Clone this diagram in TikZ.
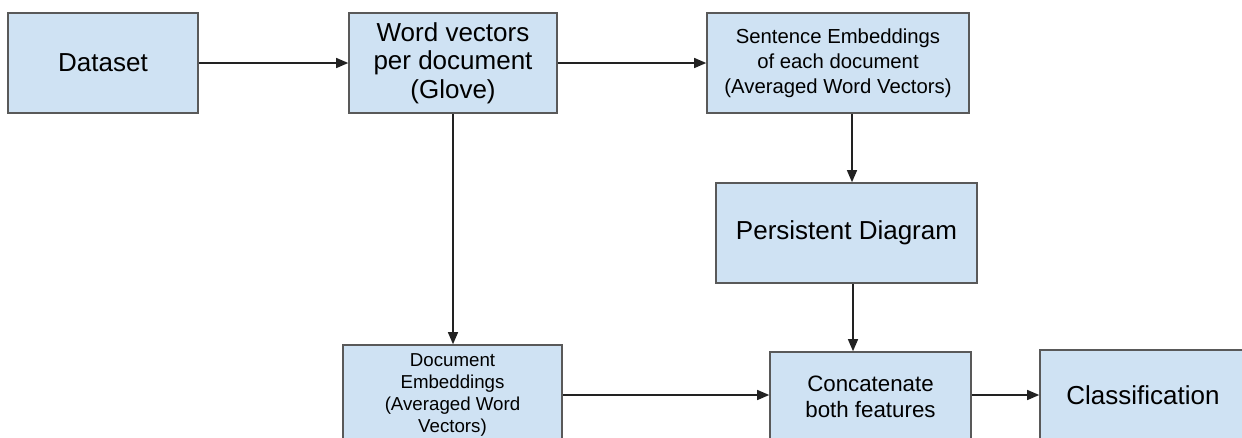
\documentclass[tikz,border=0pt]{standalone}
\usepackage{fontspec}
\setmainfont{Liberation Sans}
\usetikzlibrary{arrows.meta}
\definecolor{boxfill}{HTML}{CFE2F3}
\definecolor{boxline}{HTML}{595959}
\definecolor{arrowc}{HTML}{222222}
\tikzset{
  blk/.style={draw=boxline, line width=1.6pt, fill=boxfill, align=center, inner sep=2pt},
  big/.style={font=\fontsize{26}{28.5}\selectfont},
  mid/.style={font=\fontsize{20.3}{25}\selectfont},
  cat/.style={font=\fontsize{22.3}{26}\selectfont},
  sml/.style={font=\fontsize{18.7}{22}\selectfont},
  conn/.style={draw=arrowc, line width=1.3pt, -{Triangle[length=12pt,width=10pt]}}
}
\begin{document}
\begin{tikzpicture}[x=1pt,y=-1pt]
\useasboundingbox (0,0) rectangle (1242,437);
\clip (0,0) rectangle (1242,437);
\node[blk,big,minimum width=190pt,minimum height=100pt] (dataset) at (103,63) {Dataset};
\node[blk,big,minimum width=208pt,minimum height=100pt] (word) at (453,63) {Word vectors\\per document\\(Glove)};
\node[blk,mid,minimum width=262pt,minimum height=100pt] (sent) at (838,63) {Sentence Embeddings\\of each document\\(Averaged Word Vectors)};
\node[blk,big,minimum width=261pt,minimum height=100pt] (pers) at (846.5,233) {Persistent Diagram};
\node[blk,sml,minimum width=219pt,minimum height=100pt] (doc) at (452.5,395) {Document\\Embeddings\\(Averaged Word\\Vectors)};
\node[blk,cat,minimum width=201pt,minimum height=90pt] (cat) at (870.5,397) {Concatenate\\both features};
\node[blk,big,minimum width=206pt,minimum height=90pt] (cls) at (1143,395) {Classification};
\draw[conn] (dataset.east) -- (word.west);
\draw[conn] (word.east) -- (sent.west);
\draw[conn] (word.south) -- (word.south |- doc.north);
\draw[conn] ([xshift=14pt]sent.south) -- ([xshift=14pt]sent.south |- pers.north);
\draw[conn] ([xshift=6.5pt]pers.south) -- ([xshift=6.5pt]pers.south |- cat.north);
\draw[conn] (doc.east) -- (doc.east -| cat.west);
\draw[conn] ([yshift=2pt]cat.east) -- (cls.west);
\end{tikzpicture}
\end{document}
